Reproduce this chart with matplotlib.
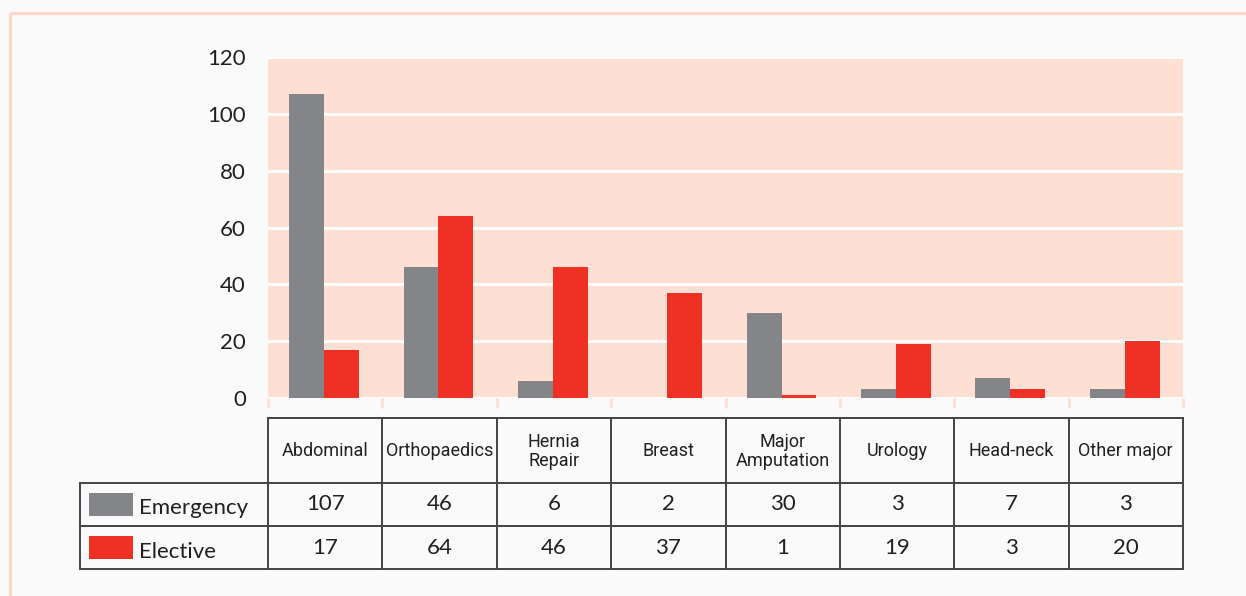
import matplotlib
matplotlib.use("Agg")
import matplotlib.pyplot as plt
from matplotlib.patches import Rectangle
import numpy as np

categories = ["Abdominal", "Orthopaedics", "Hernia\nRepair", "Breast", "Major\nAmputation",
              "Urology", "Head-neck", "Other major"]
series = ["Emergency", "Elective"]
emergency = [107, 46, 6, 2, 30, 3, 7, 3]
elective = [17, 64, 46, 37, 1, 19, 3, 20]
# bar heights as drawn in the picture (breast emergency bar is not shown there)
emergency_bars = [107, 46, 6, 0, 30, 3, 7, 3]
elective_bars = elective
yticks = [0, 20, 40, 60, 80, 100, 120]

GRAY = "#848589"
RED = "#ee3124"
PINK = "#fddfd4"
FRAME = "#fdd5c5"
LINE = "#444444"
TXT = "#231f20"

W, H = 1246, 596
fig = plt.figure(figsize=(W / 100, H / 100), dpi=100)
fig.patch.set_facecolor("#fafafa")

num_font = ["Lato", "DejaVu Sans"]
cat_font = ["Roboto", "DejaVu Sans"]

# overlay axes in pixel coordinates for frame and table
ov = fig.add_axes([0, 0, 1, 1], zorder=0)
ov.set_xlim(0, W)
ov.set_ylim(H, 0)
ov.axis("off")
ov.plot([9.5, W], [12.5, 12.5], color=FRAME, lw=2.2, solid_capstyle="butt")
ov.plot([9.5, 9.5], [12.5, H], color=FRAME, lw=2.2, solid_capstyle="butt")

# bar chart
ax_l, ax_r, ax_t, ax_b = 268, 1183, 57, 398
ax = fig.add_axes([ax_l / W, 1 - ax_b / H, (ax_r - ax_l) / W, (ax_b - ax_t) / H], zorder=1)
ax.set_facecolor(PINK)
x = np.arange(len(categories))
bw = 0.305
ax.bar(x - bw / 2 - 0.01, emergency_bars, bw, color=GRAY, zorder=3)
ax.bar(x + bw / 2 - 0.01, elective_bars, bw, color=RED, zorder=3)
ax.set_xlim(-0.5, len(categories) - 0.5)
ax.set_ylim(0, 120)
ax.set_yticks(yticks)
ax.set_yticklabels([str(v) for v in yticks], fontsize=16, color=TXT, family=num_font)
ax.tick_params(axis="y", length=0, pad=16)
ax.set_xticks(np.arange(len(categories) + 1) - 0.5)
ax.set_xticklabels([])
ax.tick_params(axis="x", length=7, width=2, color=PINK, direction="out")
ax.yaxis.grid(True, color="white", lw=2.2, zorder=1)
ax.set_axisbelow(True)
for s in ax.spines.values():
    s.set_visible(False)

# table
edges = ax_l + (ax_r - ax_l) * np.arange(len(categories) + 1) / len(categories)
t_top, t_head, t_r1, t_r2 = 418, 483, 526, 569
lab_l = 80
lw = 1.4
ov.plot([ax_l, ax_r], [t_top, t_top], color=LINE, lw=lw)
ov.plot([lab_l, ax_r], [t_head, t_head], color=LINE, lw=lw)
ov.plot([lab_l, ax_r], [t_r1, t_r1], color=LINE, lw=lw)
ov.plot([lab_l, ax_r], [t_r2, t_r2], color=LINE, lw=lw)
ov.plot([lab_l, lab_l], [t_head, t_r2], color=LINE, lw=lw)
for e in edges:
    ov.plot([e, e], [t_top, t_r2], color=LINE, lw=lw)

centers = (edges[:-1] + edges[1:]) / 2
for cx, cat in zip(centers, categories):
    ov.text(cx, (t_top + t_head) / 2 + 1, cat, ha="center", va="center", fontsize=13,
            color=TXT, family=cat_font, linespacing=1.1)
for cx, a, b in zip(centers, emergency, elective):
    ov.text(cx, (t_head + t_r1) / 2, str(a), ha="center", va="center", fontsize=16,
            color=TXT, family=num_font)
    ov.text(cx, (t_r1 + t_r2) / 2, str(b), ha="center", va="center", fontsize=16,
            color=TXT, family=num_font)

for (y0, y1), name, col in zip([(t_head, t_r1), (t_r1, t_r2)], series, [GRAY, RED]):
    yc = (y0 + y1) / 2
    ov.add_patch(Rectangle((89, yc - 11.5), 44, 23, color=col, lw=0))
    ov.text(139, yc + 4, name, ha="left", va="center", fontsize=16, color=TXT,
            family=num_font)

fig.savefig("out.png", dpi=100, facecolor=fig.get_facecolor())
